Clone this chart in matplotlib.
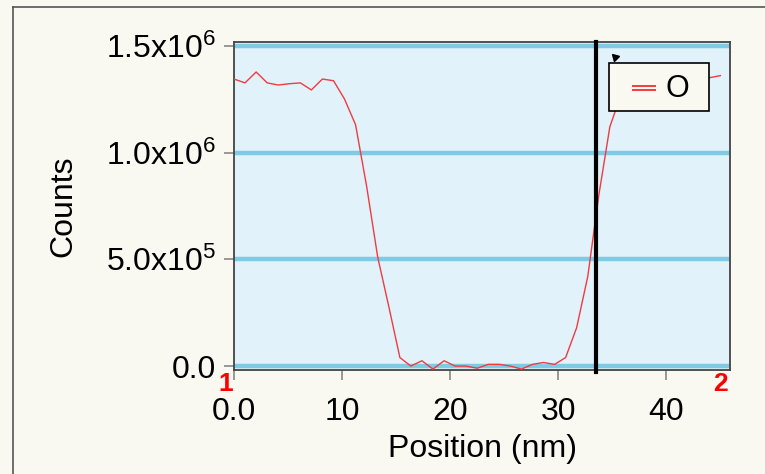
import matplotlib
matplotlib.use("Agg")
import matplotlib.pyplot as plt
from matplotlib.ticker import FixedLocator
from matplotlib.lines import Line2D
from matplotlib.patches import Rectangle

plt.rcParams['font.family'] = ['Liberation Sans', 'DejaVu Sans']
plt.rcParams['mathtext.fontset'] = 'custom'
plt.rcParams['mathtext.rm'] = 'Liberation Sans'
plt.rcParams['mathtext.it'] = 'Liberation Sans'

# ---- data ----
position_nm = [0.00, 1.02, 2.05, 3.07, 4.09, 5.12, 6.14, 7.16, 8.18, 9.21,
               10.23, 11.25, 12.28, 13.30, 14.32, 15.35, 16.37, 17.39, 18.41, 19.44,
               20.46, 21.48, 22.51, 23.53, 24.55, 25.58, 26.60, 27.62, 28.64, 29.67,
               30.69, 31.71, 32.74, 33.76, 34.78, 35.81, 36.83, 37.85, 38.87, 39.90,
               40.92, 41.94, 42.97, 43.99, 45.01]
counts_O_e6 = [1.344, 1.326, 1.377, 1.326, 1.316, 1.322, 1.326, 1.293, 1.344, 1.336,
               1.25, 1.13, 0.84, 0.51, 0.28, 0.04, 0.0, 0.025, -0.014, 0.025,
               0.0, 0.0, -0.01, 0.008, 0.008, 0.0, -0.014, 0.008, 0.017, 0.008,
               0.04, 0.18, 0.42, 0.80, 1.12, 1.27, 1.30, 1.32, 1.33, 1.32,
               1.34, 1.33, 1.34, 1.35, 1.36]
counts_O = [v * 1e6 for v in counts_O_e6]
series_label = "O"
x_ticks = [0, 10, 20, 30, 40]
x_tick_labels = ["0.0", "10", "20", "30", "40"]
y_ticks = [0, 0.5e6, 1.0e6, 1.5e6]
y_tick_labels = ["0.0", r"5.0x10$^{5}$", r"1.0x10$^{6}$", r"1.5x10$^{6}$"]
cursor_x = 33.5

# ---- style ----
fig_bg = "#f9f9f2"
ax_bg = "#e1f2fb"
grid_c = "#7ecbe6"
line_c = "#f23a3f"
W, H = 765, 474

def fx(px):
    return px / W

def fy(py):
    return 1 - py / H

fig = plt.figure(figsize=(7.65, 4.74), dpi=100, facecolor=fig_bg)
ax = fig.add_axes([fx(234), fy(369.5), (730 - 234) / W, (369.5 - 42.3) / H])
ax.set_facecolor(ax_bg)

for yv in y_ticks:
    ax.axhline(yv, color=grid_c, lw=3.2, zorder=1)

ax.plot(position_nm, counts_O, color=line_c, lw=1.0, zorder=3, label=series_label)
ax.axvline(cursor_x, color="black", lw=3, zorder=4, ymin=-0.008, clip_on=False)
ax.plot([35.3], [1.445e6], marker=(3, 0, 45), color="black", ms=6, zorder=5, clip_on=False)

ax.set_xlim(0, 45.9)
ax.set_ylim(-0.016e6, 1.516e6)
ax.xaxis.set_major_locator(FixedLocator(x_ticks))
ax.set_xticklabels(x_tick_labels)
ax.yaxis.set_major_locator(FixedLocator(y_ticks))
ax.set_yticklabels(y_tick_labels)
ax.tick_params(axis='both', labelsize=23, color="#888888", length=7, width=1.2, direction='out')
ax.tick_params(axis='x', pad=13)
ax.tick_params(axis='y', pad=6)
for s in ax.spines.values():
    s.set_color("#444444")
    s.set_linewidth(1.3)

ax.set_xlabel("Position (nm)", fontsize=23, labelpad=5)
ax.set_ylabel("Counts", fontsize=23, labelpad=20)

# legend box (drawn manually to match the original annotation box)
fig.add_artist(Rectangle((fx(609), fy(111)), (709 - 609) / W, (111 - 63) / H,
                         facecolor=fig_bg, edgecolor="black", lw=1.2, zorder=6))
fig.add_artist(Line2D([fx(633), fx(655)], [fy(86.5), fy(86.5)], color=line_c, lw=1.4, zorder=7))
fig.add_artist(Line2D([fx(633), fx(655)], [fy(89.5), fy(89.5)], color=line_c, lw=1.4, zorder=7))
fig.text(fx(677), fy(89), series_label, fontsize=22, ha="center", va="center", zorder=7)

# red cursor markers
fig.text(fx(226), fy(384), "1", color="red", fontsize=19, fontweight="bold", ha="center", va="center")
fig.text(fx(720), fy(384), "2", color="red", fontsize=19, fontweight="bold", ha="center", va="center")

# outer frame
fig.add_artist(Line2D([fx(13), fx(13)], [0, fy(7)], color="#555555", lw=1.2))
fig.add_artist(Line2D([fx(13), 1], [fy(7), fy(7)], color="#555555", lw=1.2))

fig.savefig("out.png", dpi=100, facecolor=fig_bg)
